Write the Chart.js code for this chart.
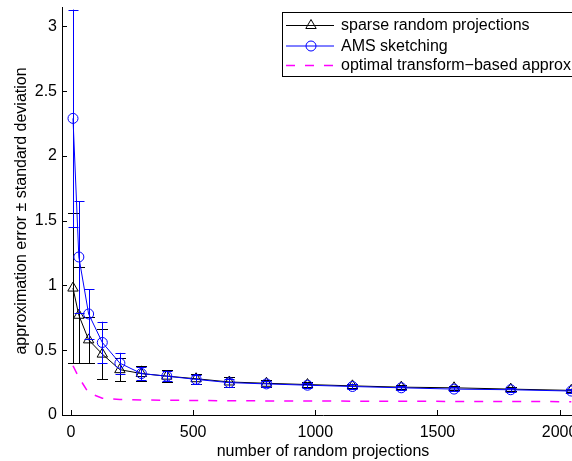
<!DOCTYPE html>
<html>
<head>
<meta charset="utf-8">
<script src="https://cdn.jsdelivr.net/npm/chart.js@4/dist/chart.umd.min.js"></script>
<style>
  html, body { margin: 0; padding: 0; background: #fff; overflow: hidden; width: 572px; height: 461px; }
  canvas { display: block; }
</style>
</head>
<body>
<canvas id="c" width="640" height="461"></canvas>
<script>
// ---- data ----
const projections = [8, 32, 72, 128, 200, 288, 392, 512, 648, 800, 968, 1152, 1352, 1568, 1800, 2048];
const sparseMean = [0.98, 0.77, 0.58, 0.47, 0.35, 0.32, 0.30, 0.28, 0.255, 0.245, 0.235, 0.225, 0.215, 0.21, 0.20, 0.19];
const sparseStd  = [0.58, 0.37, 0.18, 0.195, 0.09, 0.06, 0.045, 0.04, 0.035, 0.025, 0.02, 0.018, 0.016, 0.015, 0.014, 0.013];
const amsMean    = [2.29, 1.22, 0.78, 0.56, 0.40, 0.32, 0.30, 0.275, 0.25, 0.24, 0.23, 0.22, 0.21, 0.20, 0.195, 0.185];
const amsStd     = [0.84, 0.43, 0.19, 0.16, 0.08, 0.05, 0.04, 0.035, 0.03, 0.025, 0.02, 0.018, 0.016, 0.015, 0.014, 0.013];
const optimal    = [0.38, 0.29, 0.17, 0.13, 0.12, 0.116, 0.114, 0.112, 0.11, 0.109, 0.108, 0.107, 0.106, 0.105, 0.104, 0.103];
const xTickValues = [0, 500, 1000, 1500, 2000];
const yTickValues = [0, 0.5, 1, 1.5, 2, 2.5, 3];
const seriesNames = ['sparse random projections', 'AMS sketching', 'optimal transform\u2212based approx'];
const xTitle = 'number of random projections';
const yTitle = 'approximation error \u00b1 standard deviation';

const FONT = "'Liberation Sans', Arial, Helvetica, sans-serif";
const FS = 16;

function pts(ys) { return projections.map((x, i) => ({ x: x, y: ys[i] })); }

const errorBars = {
  id: 'errorBars',
  beforeDatasetDraw(chart, args) {
    const ds = chart.data.datasets[args.index];
    if (!ds.errStd) return;
    const xs = chart.scales.x, ys = chart.scales.y, ctx = chart.ctx, a = chart.chartArea;
    ctx.save();
    ctx.beginPath();
    ctx.rect(a.left, a.top - 2, a.right - a.left, a.bottom - a.top + 2);
    ctx.clip();
    ctx.strokeStyle = ds.borderColor;
    ctx.lineWidth = 1;
    ds.data.forEach((p, i) => {
      const s = ds.errStd[i];
      const px = Math.round(xs.getPixelForValue(p.x)) + 0.5;
      const y1 = ys.getPixelForValue(p.y - s);
      const y2 = ys.getPixelForValue(p.y + s);
      const w = ds.capHalf;
      ctx.beginPath();
      ctx.moveTo(px, y1); ctx.lineTo(px, y2);
      ctx.moveTo(px - w, Math.round(y1) + 0.5); ctx.lineTo(px + w, Math.round(y1) + 0.5);
      ctx.moveTo(px - w, Math.round(y2) + 0.5); ctx.lineTo(px + w, Math.round(y2) + 0.5);
      ctx.stroke();
    });
    ctx.restore();
  }
};

const innerTicks = {
  id: 'innerTicks',
  afterDraw(chart) {
    const ctx = chart.ctx, a = chart.chartArea, xs = chart.scales.x, ys = chart.scales.y;
    ctx.save();
    ctx.strokeStyle = '#000';
    ctx.lineWidth = 1;
    ctx.beginPath();
    yTickValues.forEach(v => {
      const py = Math.round(ys.getPixelForValue(v)) + 0.5;
      ctx.moveTo(a.left, py); ctx.lineTo(a.left + 5, py);
    });
    xTickValues.forEach(v => {
      const px = Math.round(xs.getPixelForValue(v)) + 0.5;
      ctx.moveTo(px, a.bottom); ctx.lineTo(px, a.bottom - 5);
    });
    ctx.stroke();

    // legend
    const lx = 282.5, ly = 12.5, lw = 330, lh = 64;
    ctx.fillStyle = '#fff';
    ctx.fillRect(lx, ly, lw, lh);
    ctx.strokeStyle = '#000';
    ctx.strokeRect(lx, ly, lw, lh);
    const rows = [25.5, 46, 65.5];
    const dsList = chart.data.datasets;
    rows.forEach((ry, i) => {
      const ds = dsList[i];
      ctx.save();
      ctx.strokeStyle = ds.borderColor;
      ctx.lineWidth = ds.borderWidth;
      ctx.setLineDash(ds.borderDash || []);
      ctx.beginPath();
      ctx.moveTo(286, ry); ctx.lineTo(334, ry);
      ctx.stroke();
      ctx.restore();
      if (ds.pointRadius > 0) {
        ctx.save();
        ctx.strokeStyle = ds.borderColor;
        ctx.fillStyle = 'rgba(0,0,0,0)';
        ctx.lineWidth = 1;
        Chart.helpers.drawPoint(ctx, { pointStyle: ds.pointStyle, radius: ds.pointRadius, borderWidth: 1, rotation: 0 }, 311, ry);
        ctx.restore();
      }
      ctx.fillStyle = '#000';
      ctx.font = FS + 'px ' + FONT;
      ctx.textBaseline = 'middle';
      ctx.textAlign = 'left';
      ctx.fillText(seriesNames[i], 341, ry + 0.5);
    });
    ctx.restore();
  }
};

new Chart(document.getElementById('c'), {
  type: 'line',
  data: {
    datasets: [
      {
        label: seriesNames[0], data: pts(sparseMean), errStd: sparseStd, capHalf: 5.5,
        borderColor: '#000000', backgroundColor: 'rgba(0,0,0,0)', borderWidth: 1,
        pointStyle: 'triangle', pointRadius: 6, pointBorderWidth: 1,
        pointBackgroundColor: 'rgba(0,0,0,0)', tension: 0, order: 2
      },
      {
        label: seriesNames[1], data: pts(amsMean), errStd: amsStd, capHalf: 5,
        borderColor: '#0000ff', backgroundColor: 'rgba(0,0,0,0)', borderWidth: 1,
        pointStyle: 'circle', pointRadius: 5, pointBorderWidth: 1,
        pointBackgroundColor: 'rgba(0,0,0,0)', tension: 0, order: 1
      },
      {
        label: seriesNames[2], data: pts(optimal),
        borderColor: '#ff00ff', backgroundColor: 'rgba(0,0,0,0)', borderWidth: 1.5,
        borderDash: [9, 10], pointRadius: 0, tension: 0, order: 3
      }
    ]
  },
  options: {
    responsive: false,
    animation: false,
    devicePixelRatio: 1,
    layout: { padding: { top: 5, right: 56, left: 0, bottom: 0 } },
    plugins: { legend: { display: false }, tooltip: { enabled: false } },
    scales: {
      x: {
        type: 'linear', min: -37, max: 2100,
        afterBuildTicks(s) { s.ticks = xTickValues.map(v => ({ value: v })); },
        afterFit(s) { s.height = 46; s.paddingLeft = 0; s.paddingRight = 0; },
        grid: { display: true, drawOnChartArea: false, drawTicks: false },
        border: { display: true, color: '#000', width: 1 },
        ticks: { color: '#000', padding: 8, maxRotation: 0, font: { family: FONT, size: FS }, callback: v => String(v) },
        title: { display: true, text: xTitle, color: '#000', font: { family: FONT, size: FS }, padding: { top: 4, bottom: 0 } }
      },
      y: {
        type: 'linear', min: 0, max: 3.15,
        afterBuildTicks(s) { s.ticks = yTickValues.map(v => ({ value: v })); },
        afterFit(s) { s.width = 62; s.paddingTop = 0; s.paddingBottom = 0; },
        grid: { display: true, drawOnChartArea: false, drawTicks: false },
        border: { display: true, color: '#000', width: 1 },
        ticks: { color: '#000', padding: 5, font: { family: FONT, size: FS }, callback: v => String(v) },
        title: { display: true, text: yTitle, color: '#000', font: { family: FONT, size: FS }, padding: { top: 12, bottom: 0 } }
      }
    }
  },
  plugins: [errorBars, innerTicks]
});
</script>
</body>
</html>
